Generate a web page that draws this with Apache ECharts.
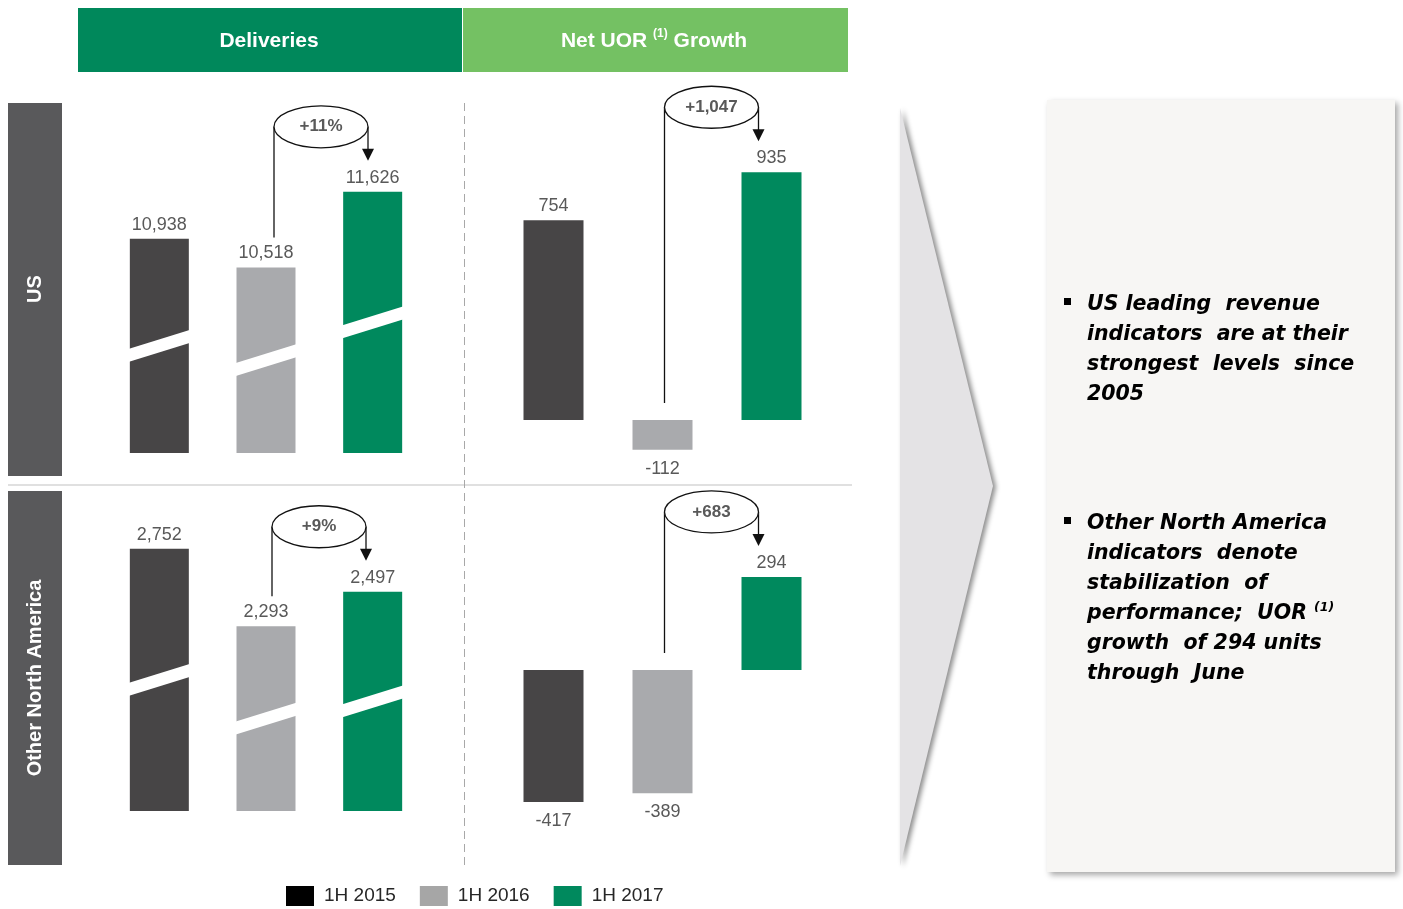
<!DOCTYPE html>
<html>
<head>
<meta charset="utf-8">
<script src="https://cdn.jsdelivr.net/npm/echarts@6/dist/echarts.min.js"></script>
<style>
html,body{margin:0;padding:0;background:#fff;}
#chart{width:1403px;height:909px;}
</style>
</head>
<body>
<div id="chart"></div>
<script>
// ---- data ----
const years = ['1H 2015', '1H 2016', '1H 2017'];
const usDeliveries = [10938, 10518, 11626];
const onaDeliveries = [2752, 2293, 2497];
const usNetUOR = [754, -112, 935];
const onaNetUOR = [-417, -389, 294];
const changeLabels = ['+11%', '+1,047', '+9%', '+683'];
const headerTitles = ['Deliveries', 'Net UOR', '(1)', 'Growth'];
const regionLabels = ['US', 'Other North America'];
const bullet1 = ['US leading  revenue', 'indicators  are at their', 'strongest  levels  since', '2005'];
const bullet2 = ['Other North America', 'indicators  denote', 'stabilization  of', 'performance;  UOR ', 'growth  of 294 units', 'through  June'];

// ---- styles / layout ----
const colors = ['#474546', '#a9aaad', '#00895d'];
const legendColors = ['#000000', '#a6a6a6', '#00895d'];
const FONT = '"Liberation Sans", Arial, sans-serif';
const panels = [
  { vals: usDeliveries, min: 7800, max: 13000, grid: { left: 106, width: 320, top: 98, height: 355 }, bw: 59, brk: true, dx: 8 },
  { vals: usNetUOR, min: -200, max: 1200, grid: { left: 499, width: 327, top: 102, height: 371 }, bw: 60, brk: false, dx: 2 },
  { vals: onaDeliveries, min: 1200, max: 3300, grid: { left: 106, width: 320, top: 456, height: 355 }, bw: 59, brk: true, dx: 6 },
  { vals: onaNetUOR, min: -600, max: 600, grid: { left: 499, width: 327, top: 480, height: 380 }, bw: 60, brk: false, dx: 2 }
];

const chart = echarts.init(document.getElementById('chart'));

const grids = [], xAxes = [], yAxes = [], series = [];
panels.forEach((p, pi) => {
  grids.push(Object.assign({ containLabel: false }, p.grid));
  xAxes.push({ type: 'category', gridIndex: pi, data: years, show: false });
  yAxes.push({ type: 'value', gridIndex: pi, min: p.min, max: p.max, show: false });
  years.forEach((y, yi) => {
    series.push({
      type: 'bar', name: y, xAxisIndex: pi, yAxisIndex: pi,
      barWidth: p.bw, barGap: '-100%',
      itemStyle: { color: colors[yi] },
      label: {
        show: true, distance: 5, color: '#595959', fontSize: 18, fontFamily: FONT,
        formatter: (prm) => Number(prm.value).toLocaleString('en-US')
      },
      emphasis: { disabled: true },
      data: p.vals.map((v, i) => i === yi
        ? { value: v, label: v < 0 ? { position: 'bottom', distance: 10 } : { position: 'top' } }
        : '-')
    });
  });
  if (p.brk) {
    series.push({
      type: 'custom', name: 'break' + pi, xAxisIndex: pi, yAxisIndex: pi, silent: true, z: 5,
      data: p.vals.map((v, i) => [i, v]),
      renderItem: (params, api) => {
        const i = api.value(0), v = api.value(1);
        const top = api.coord([i, v]);
        const bot = api.coord([i, p.min]);
        const mid = (top[1] + bot[1]) / 2;
        const cx = top[0], hw = 31, s = 9.6, t = 6.5;
        return {
          type: 'polygon',
          shape: { points: [[cx - hw, mid + s - t], [cx + hw, mid - s - t], [cx + hw, mid - s + t], [cx - hw, mid + s + t]] },
          style: { fill: '#ffffff' }
        };
      }
    });
  }
});

const staticGraphics = [
  // headers
  { type: 'rect', shape: { x: 78, y: 8, width: 384, height: 64 }, style: { fill: '#00885b' } },
  { type: 'rect', shape: { x: 463, y: 8, width: 385, height: 64 }, style: { fill: '#74c163' } },
  { type: 'text', x: 269, y: 41, style: { text: headerTitles[0], fill: '#fff', font: 'bold 21px ' + FONT, textAlign: 'center', textVerticalAlign: 'middle' } },
  { type: 'text', x: 654, y: 41, style: {
      text: '{h|' + headerTitles[1] + ' }{s|' + headerTitles[2] + '}{h| ' + headerTitles[3] + '}',
      textAlign: 'center', textVerticalAlign: 'middle',
      rich: { h: { fill: '#fff', fontSize: 21, fontWeight: 'bold', fontFamily: FONT, lineHeight: 26 },
              s: { fill: '#fff', fontSize: 12, fontWeight: 'bold', fontFamily: FONT, verticalAlign: 'top', lineHeight: 14 } } } },
  // region labels
  { type: 'rect', shape: { x: 8, y: 103, width: 54, height: 373 }, style: { fill: '#59595b' } },
  { type: 'rect', shape: { x: 8, y: 491, width: 54, height: 374 }, style: { fill: '#59595b' } },
  { type: 'text', x: 35, y: 289, rotation: Math.PI / 2, style: { text: regionLabels[0], fill: '#fff', font: 'bold 20px ' + FONT, textAlign: 'center', textVerticalAlign: 'middle' } },
  { type: 'text', x: 35, y: 678, rotation: Math.PI / 2, style: { text: regionLabels[1], fill: '#fff', font: 'bold 20px ' + FONT, textAlign: 'center', textVerticalAlign: 'middle' } },
  // separators
  { type: 'line', shape: { x1: 8, y1: 485, x2: 852, y2: 485 }, style: { stroke: '#e0e0e0', lineWidth: 2 } },
  { type: 'line', shape: { x1: 464.5, y1: 103, x2: 464.5, y2: 866 }, style: { stroke: '#a8a8a8', lineWidth: 1, lineDash: [8, 5] } },
  // chevron
  { type: 'polygon', shape: { points: [[900, 108], [993, 486], [900, 866]] },
    style: { fill: '#e4e3e5', shadowColor: 'rgba(0,0,0,0.45)', shadowBlur: 5, shadowOffsetX: 3, shadowOffsetY: 1 } },
  // text box
  { type: 'rect', shape: { x: 1047, y: 100, width: 348, height: 772 },
    style: { fill: '#f7f6f4', shadowColor: 'rgba(0,0,0,0.35)', shadowBlur: 6, shadowOffsetX: 3, shadowOffsetY: 3 } },
  { type: 'rect', shape: { x: 1064, y: 298, width: 7, height: 7 }, style: { fill: '#000' } },
  { type: 'rect', shape: { x: 1064, y: 517, width: 7, height: 7 }, style: { fill: '#000' } },
  { type: 'text', x: 1087, y: 290, style: { text: bullet1.join('\n'), fill: '#000', font: 'italic bold 20.5px "DejaVu Sans", sans-serif', lineHeight: 30, textVerticalAlign: 'top' } },
  { type: 'text', x: 1087, y: 509, style: {
      text: bullet2.map((l, i) => i === 3 ? '{a|' + l + '}{s|(1)}' : '{a|' + l + '}').join('\n'),
      textVerticalAlign: 'top',
      rich: { a: { fill: '#000', fontSize: 20.5, fontStyle: 'italic', fontWeight: 'bold', fontFamily: '"DejaVu Sans", sans-serif', lineHeight: 30 },
              s: { fill: '#000', fontSize: 12.5, fontStyle: 'italic', fontWeight: 'bold', fontFamily: '"DejaVu Sans", sans-serif', lineHeight: 30, verticalAlign: 'top', padding: [2, 0, 0, 0] } } } }
];

chart.setOption({
  animation: false,
  backgroundColor: '#ffffff',
  grid: grids, xAxis: xAxes, yAxis: yAxes, series: series,
  legend: {
    left: 286, top: 886, padding: 0, itemWidth: 28, itemHeight: 20, itemGap: 24, icon: 'rect',
    selectedMode: false,
    textStyle: { fontSize: 19, color: '#262626', fontFamily: FONT, padding: [0, 0, 0, 5] },
    data: years.map((y, i) => ({ name: y, itemStyle: { color: legendColors[i] } }))
  }
});

// growth annotations computed from the library's scales
const annot = [];
panels.forEach((p, pi) => {
  const g = chart.convertToPixel({ gridIndex: pi }, [1, Math.max(p.vals[1], 0)]);
  const n = chart.convertToPixel({ gridIndex: pi }, [2, p.vals[2]]);
  const L = g[0] + p.dx, R = L + 94;
  const cy = n[1] - 65, tip = n[1] - 31;
  const lb = g[1] - (p.vals[1] > 0 ? 30 : 17);
  annot.push(
    { type: 'line', shape: { x1: L, y1: lb, x2: L, y2: cy }, style: { stroke: '#111', lineWidth: 1.3 }, z: 10 },
    { type: 'line', shape: { x1: R, y1: cy, x2: R, y2: tip - 11 }, style: { stroke: '#111', lineWidth: 1.3 }, z: 10 },
    { type: 'polygon', shape: { points: [[R - 6, tip - 12], [R + 6, tip - 12], [R, tip]] }, style: { fill: '#111' }, z: 10 },
    { type: 'ellipse', shape: { cx: (L + R) / 2, cy: cy, rx: (R - L) / 2, ry: 21 }, style: { fill: '#fff', stroke: '#111', lineWidth: 1.3 }, z: 11 },
    { type: 'text', x: (L + R) / 2, y: cy, z: 12, style: { text: changeLabels[pi], fill: '#595959', font: 'bold 17px ' + FONT, textAlign: 'center', textVerticalAlign: 'middle' } }
  );
});

chart.setOption({ graphic: staticGraphics.concat(annot) });
</script>
</body>
</html>
